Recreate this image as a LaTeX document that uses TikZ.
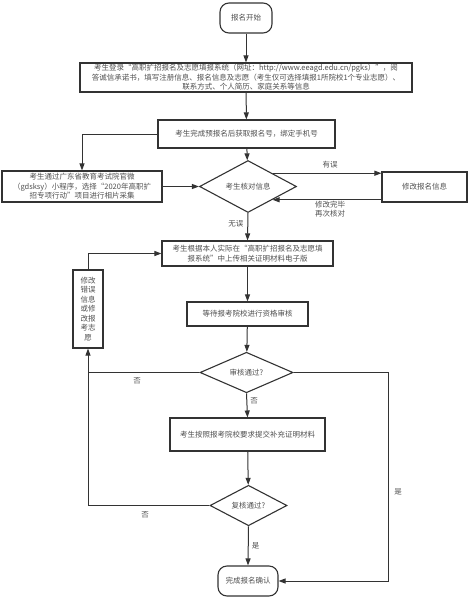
\documentclass[tikz,border=0pt]{standalone}
\usepackage{fontspec}
\newfontfamily\cjk{Noto Sans CJK SC}
\usetikzlibrary{shapes.geometric,arrows.meta,calc}
\definecolor{ln}{HTML}{333333}
\definecolor{tx}{HTML}{505050}
\tikzset{
  base/.style={draw=ln,line width=1.1pt,fill=white,inner sep=0pt,align=center,text=tx,font=\cjk\fontsize{7.5}{9.5}\selectfont},
  box/.style={base,rectangle},
  term/.style={base,rectangle,rounded corners=9pt},
  dia/.style={base,diamond},
  conn/.style={draw=ln,line width=1pt},
  arr/.style={conn,-{Triangle[length=7pt,width=5pt]}},
  lbl/.style={text=tx,font=\cjk\fontsize{7.5}{9.5}\selectfont,inner sep=0pt,align=center}
}
\begin{document}
\begin{tikzpicture}[x=1pt,y=-1pt]
\useasboundingbox (0,0) rectangle (469,600);
\node[term,minimum width=52pt,minimum height=30pt] (start) at (246,18) {报名开始};
\node[box,minimum width=332pt,minimum height=29pt] (b2) at (246,77.5) {考生登录“高职扩招报名及志愿填报系统（网址：http://www.eeagd.edu.cn/pgks）”，阅\\答诚信承诺书，填写注册信息、报名信息及志愿（考生仅可选择填报1所院校1个专业志愿）、\\联系方式、个人简历、家庭关系等信息};
\node[box,minimum width=177pt,minimum height=28pt] (b3) at (246.5,134) {考生完成预报名后获取报名号，绑定手机号};
\node[box,minimum width=160pt,minimum height=31pt] (b4) at (82,186.5) {考生通过广东省教育考试院官微\\（gdsksy）小程序，选择“2020年高职扩\\招专项行动”项目进行相片采集};
\node[dia,minimum width=97pt,minimum height=33pt] (d1) at (248,186.5) {考生核对信息};
\node[box,minimum width=85pt,minimum height=30pt] (fix) at (424.5,187) {修改报名信息};
\node[box,minimum width=171pt,minimum height=25pt] (b5) at (247.5,253.5) {考生根据本人实际在“高职扩招报名及志愿填\\报系统”中上传相关证明材料电子版};
\node[box,minimum width=30pt,minimum height=78pt] (side) at (88,309) {修改\\错误\\信息\\或修\\改报\\考志\\愿};
\node[box,minimum width=121pt,minimum height=24pt] (b6) at (247.5,314) {等待报考院校进行资格审核};
\node[dia,minimum width=93pt,minimum height=33pt] (d2) at (246.5,372.5) {审核通过?};
\node[box,minimum width=155pt,minimum height=33pt] (b7) at (247.5,434.5) {考生按照报考院校要求提交补充证明材料};
\node[dia,minimum width=77pt,minimum height=35pt] (d3) at (248.5,505.5) {复核通过?};
\node[term,minimum width=60pt,minimum height=30pt] (end) at (248,581) {完成报名确认};
\coordinate (r) at (388,372.5);

\draw[arr] (start) -- (b2);
\draw[arr] (b2) -- (b3);
\draw[arr] (b3.west) -| (b4.north);
\draw[arr] (b4.east) -- (d1.west);
\draw[arr] (b3) -- (d1);
\draw[arr] (d1.north east) -- (fix.west |- d1.north east);
\draw[arr] (fix.west |- d1.south east) -- (d1.south east);
\node[lbl] at (330,165) {有误};
\node[lbl] at (330,209) {修改完毕\\再次核对};
\draw[arr] (d1.south) -- node[lbl,left=4pt,pos=0.4]{无误} (b5.north);
\draw[arr] (side.north) |- (b5.west);
\draw[arr] (b5) -- (b6);
\draw[arr] (b6) -- (d2);
\draw[conn] (d2.west) -- (side.south |- d2.west);
\node[lbl] at (137,381) {否};
\draw[arr] (d3.west) -| (side.south);
\node[lbl] at (145,515) {否};
\draw[arr] (d2.south) -- node[lbl,right=3pt,pos=0.3]{否} (b7.north);
\draw[arr] (b7) -- (d3);
\draw[arr] (d3.south) -- node[lbl,right=3pt]{是} (end.north);
\draw[arr] (d2.east) -- (r) |- (end.east);
\node[lbl] at (398,492) {是};
\end{tikzpicture}
\end{document}
